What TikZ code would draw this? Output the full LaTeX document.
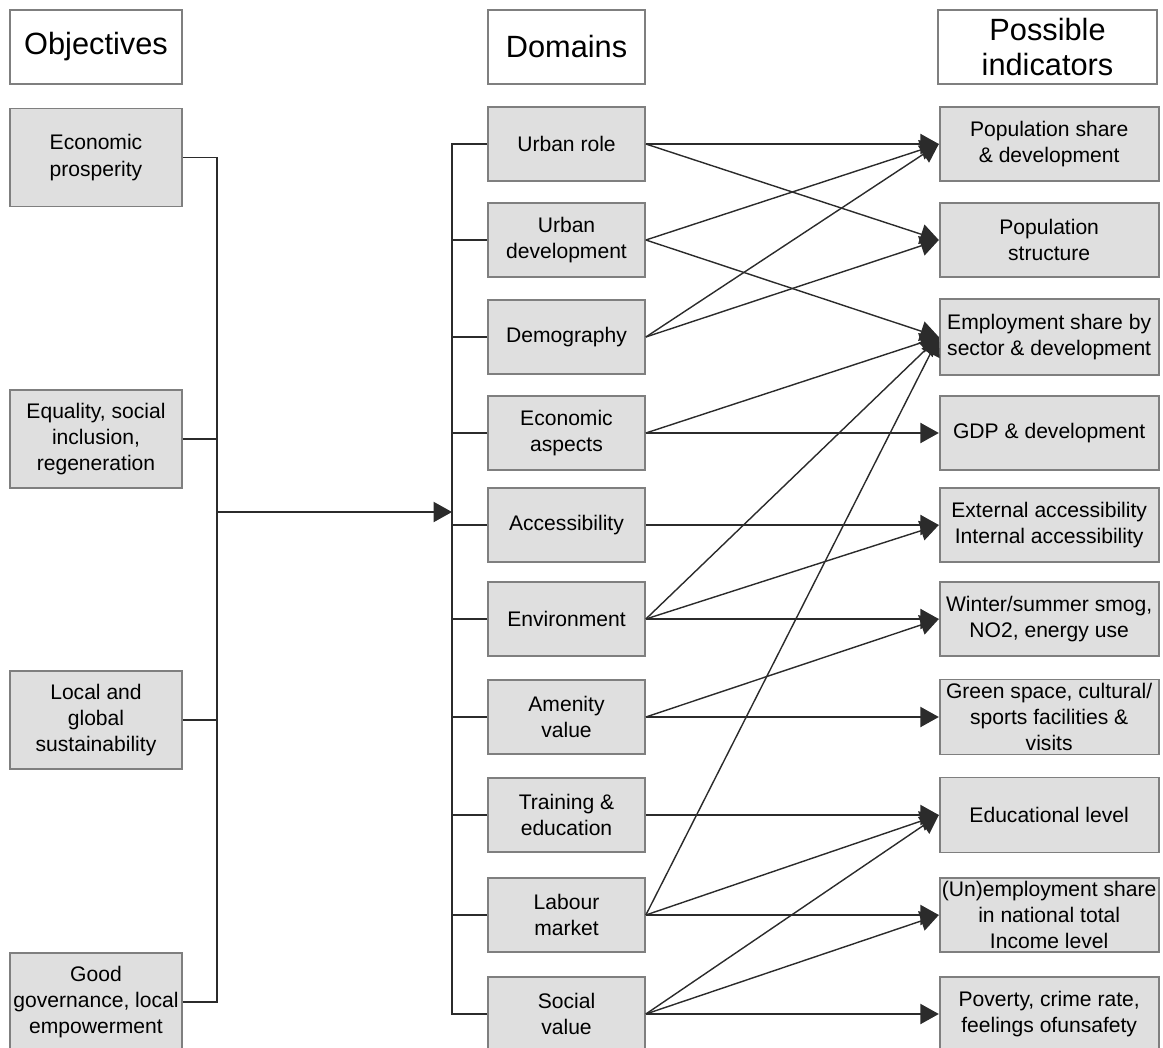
\documentclass[tikz,border=0pt]{standalone}
\usepackage{fontspec}
\setmainfont{Liberation Sans}
\usepackage{xcolor}
\definecolor{BoxGray}{HTML}{DFDFDF}
\definecolor{EdgeGray}{HTML}{7F7F7F}
\definecolor{LineDark}{HTML}{2B2B2B}
\usepackage{tikz}
\usetikzlibrary{arrows.meta,positioning}

\begin{document}
\begin{tikzpicture}[x=0.02cm,y=-0.02cm,
  headbox/.style={draw=EdgeGray,line width=1pt,fill=white,align=center,inner sep=0pt,font=\fontsize{17.5}{20}\selectfont,minimum height=1.48cm},
  goalbox/.style={draw=EdgeGray,line width=1pt,fill=BoxGray,align=center,inner sep=0pt,font=\fontsize{12}{15}\selectfont,minimum width=3.44cm,minimum height=1.96cm},
  dombox/.style={goalbox,minimum width=3.14cm,minimum height=1.48cm},
  indbox/.style={goalbox,minimum width=4.38cm,minimum height=1.48cm},
  link/.style={line width=0.8pt,LineDark},
  arr/.style={link,-{Triangle[length=10.5pt,width=11.5pt]}}
]
  \useasboundingbox (0,0) rectangle (1163,1048);
  \clip (0,0) rectangle (1163,1048);

  % column heads
  \node[headbox,minimum width=3.44cm] (objhead) at (96,47) {Objectives};
  \node[headbox,minimum width=3.14cm] (domhead) at (566.5,47) {Domains};
  \node[headbox,minimum width=4.38cm] (indhead) at (1047.5,47) {Possible\\indicators};

  % objectives
  \node[goalbox] (econ) at (96,157.5) {Economic\\prosperity};
  \node[goalbox] (equal) at (96,439) {Equality, social\\inclusion,\\regeneration};
  \node[goalbox] (sust) at (96,720) {Local and\\global\\sustainability};
  \node[goalbox] (gov) at (96,1002) {Good\\governance, local\\empowerment};

  % domains
  \node[dombox] (urole) at (566.5,144) {Urban role};
  \node[dombox] (udev) at (566.5,240) {Urban\\development};
  \node[dombox] (demo) at (566.5,337) {Demography};
  \node[dombox] (ecoasp) at (566.5,433) {Economic\\aspects};
  \node[dombox] (access) at (566.5,525) {Accessibility};
  \node[dombox] (env) at (566.5,619) {Environment};
  \node[dombox] (amen) at (566.5,717) {Amenity\\value};
  \node[dombox] (train) at (566.5,815) {Training \&\\education};
  \node[dombox] (labour) at (566.5,915) {Labour\\market};
  \node[dombox] (social) at (566.5,1014) {Social\\value};

  % indicators
  \node[indbox,right=5.86cm of urole] (popshare) {Population share\\\& development};
  \node[indbox,right=5.86cm of udev] (popstruct) {Population\\structure};
  \node[indbox,right=5.86cm of demo,minimum height=1.52cm] (empl) {Employment share by\\sector \& development};
  \node[indbox,right=5.86cm of ecoasp] (gdp) {GDP \& development};
  \node[indbox,right=5.86cm of access] (extacc) {External accessibility\\Internal accessibility};
  \node[indbox,right=5.86cm of env] (smog) {Winter/summer smog,\\NO2, energy use};
  \node[indbox,right=5.86cm of amen,minimum height=1.5cm] (green) {Green space, cultural/\\sports facilities \&\\visits};
  \node[indbox,right=5.86cm of train,minimum height=1.5cm] (edu) {Educational level};
  \node[indbox,right=5.86cm of labour] (unempl) {(Un)employment share\\in national total\\Income level};
  \node[indbox,right=5.86cm of social] (poverty) {Poverty, crime rate,\\feelings ofunsafety};

  % objectives feed the domains
  \coordinate (lbus) at (217,512);
  \coordinate (mbus) at (452,512);
  \draw[link] (econ.east) -| (lbus);
  \draw[link] (equal.east) -| (lbus);
  \draw[link] (sust.east) -| (lbus);
  \draw[link] (gov.east) -| (lbus);
  \draw[arr] (lbus) -- (mbus);
  \draw[link] (urole.west) -| (mbus);
  \draw[link] (udev.west) -| (mbus);
  \draw[link] (demo.west) -| (mbus);
  \draw[link] (ecoasp.west) -| (mbus);
  \draw[link] (access.west) -| (mbus);
  \draw[link] (env.west) -| (mbus);
  \draw[link] (amen.west) -| (mbus);
  \draw[link] (train.west) -| (mbus);
  \draw[link] (labour.west) -| (mbus);
  \draw[link] (social.west) -| (mbus);

  % domains to indicators
  \draw[arr] (urole.east) -- (popshare.west);
  \draw[arr] (urole.east) -- (popstruct.west);
  \draw[arr] (udev.east) -- (popshare.west);
  \draw[arr] (udev.east) -- (empl.west);
  \draw[arr] (demo.east) -- (popshare.west);
  \draw[arr] (demo.east) -- (popstruct.west);
  \draw[arr] (ecoasp.east) -- (empl.west);
  \draw[arr] (ecoasp.east) -- (gdp.west);
  \draw[arr] (access.east) -- (extacc.west);
  \draw[arr] (env.east) -- (empl.west);
  \draw[arr] (env.east) -- (extacc.west);
  \draw[arr] (env.east) -- (smog.west);
  \draw[arr] (amen.east) -- (smog.west);
  \draw[arr] (amen.east) -- (green.west);
  \draw[arr] (train.east) -- (edu.west);
  \draw[arr] (labour.east) -- (empl.west);
  \draw[arr] (labour.east) -- (edu.west);
  \draw[arr] (labour.east) -- (unempl.west);
  \draw[arr] (social.east) -- (edu.west);
  \draw[arr] (social.east) -- (unempl.west);
  \draw[arr] (social.east) -- (poverty.west);
\end{tikzpicture}
\end{document}
